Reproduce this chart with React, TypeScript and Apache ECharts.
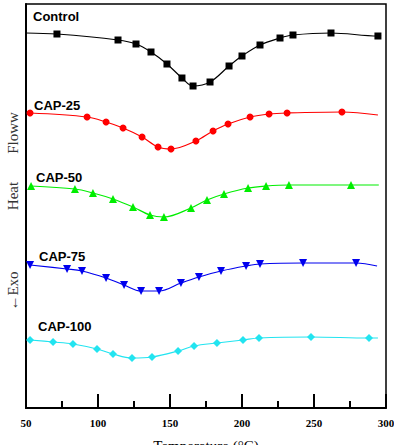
import React, { useEffect, useRef } from "react";
import * as echarts from "echarts";

// Temperature (°C) of each point and relative heat flow (arbitrary units, stacked offsets)
const controlT = [50, 71.5, 113.9, 126.4, 136.8, 147.9, 158.3, 166, 177.8, 191, 200, 212.5, 226.4, 235.4, 261.8, 294.4, 296.5];
const controlV = [375, 374, 368, 364, 356, 344, 330, 322, 326, 342, 352, 363, 370, 373, 375, 372, 373];

const cap25T = [52.8, 92.4, 105.6, 117.4, 130.6, 141.7, 150.7, 168, 179.9, 190.3, 205.6, 218.8, 231.3, 269.4, 294.4];
const cap25V = [295, 291, 286, 280, 271, 261, 259, 267, 277, 284, 291, 294, 295, 296, 293];

const cap50T = [53.5, 84, 96.5, 110.4, 124.3, 136.1, 145.8, 164.6, 175.7, 187.5, 204.2, 216.7, 232.6, 275.7, 295];
const cap50V = [222, 219, 215, 209, 201, 193, 191, 200, 208, 214, 220, 222, 223, 223, 223];

const cap75T = [52.8, 78.5, 88.9, 105.6, 118.1, 129.9, 142.4, 157.6, 170.1, 185.4, 202.8, 212.5, 242.4, 279.2, 293.8];
const cap75V = [143, 139, 137, 130, 123, 117, 117, 125, 131, 137, 142, 144, 145, 145, 142];

const cap100T = [52.8, 68.8, 82.6, 99.3, 110.4, 123.6, 137.5, 155.6, 166.7, 182.6, 200.7, 211.8, 247.9, 288.2, 294.4];
const cap100V = [68, 66, 64, 59, 54, 50, 51, 57, 62, 65, 68, 70, 71, 70, 70];

const seriesNames = ["Control", "CAP-25", "CAP-50", "CAP-75", "CAP-100"];
const xTicks = [50, 100, 150, 200, 250, 300];

const colors = ["#000000", "#ff0000", "#00ee00", "#0000ee", "#22e4f0"];

function build(t: number[], v: number[], noStart: boolean) {
  return t.map((x, i) => {
    const last = i === t.length - 1;
    if ((noStart && i === 0) || last) return { value: [x, v[i]], symbol: "none" };
    return { value: [x, v[i]] };
  });
}

export default function App() {
  const ref = useRef<HTMLDivElement>(null);
  useEffect(() => {
    if (!ref.current) return;
    const chart = echarts.init(ref.current, undefined, { renderer: "svg" });
    const sets = [
      { t: controlT, v: controlV, sym: "rect", size: 7, rot: 0, noStart: true },
      { t: cap25T, v: cap25V, sym: "circle", size: 7, rot: 0, noStart: false },
      { t: cap50T, v: cap50V, sym: "triangle", size: 8, rot: 0, noStart: false },
      { t: cap75T, v: cap75V, sym: "triangle", size: 8, rot: 180, noStart: false },
      { t: cap100T, v: cap100V, sym: "diamond", size: 8, rot: 0, noStart: false },
    ];
    const labelPos = [
      [33, 17],
      [34, 106],
      [36, 178],
      [39, 257],
      [38, 327],
    ];
    const vText = (text: string, y: number) => ({
      type: "text",
      x: 13,
      y,
      rotation: Math.PI / 2,
      style: {
        text,
        font: "15px 'Liberation Serif', serif",
        fill: "#333",
        align: "center",
        verticalAlign: "middle",
      },
    });
    chart.setOption({
      animation: false,
      grid: {
        left: 26,
        right: 8,
        top: 4,
        bottom: 37,
        show: true,
        borderColor: "#000",
        borderWidth: 1.5,
        outerBoundsMode: "none",
      },
      xAxis: {
        type: "value",
        min: xTicks[0],
        max: xTicks[xTicks.length - 1],
        interval: 50,
        name: "Temperature (°C)",
        nameLocation: "middle",
        nameGap: 30,
        nameTextStyle: { fontFamily: "Liberation Serif", fontSize: 15, color: "#000" },
        axisLine: { show: true, onZero: false, lineStyle: { color: "#000", width: 2 } },
        axisTick: { show: true, inside: true, length: 14, lineStyle: { color: "#000", width: 2 } },
        minorTick: { show: true, splitNumber: 2, length: 7, lineStyle: { color: "#000", width: 2 } },
        axisLabel: {
          margin: 9,
          fontFamily: "Liberation Serif",
          fontWeight: "bold",
          fontSize: 11,
          color: "#000",
        },
        splitLine: { show: false },
      },
      yAxis: {
        type: "value",
        min: 0,
        max: 404,
        axisLine: { show: true, onZero: false, lineStyle: { color: "#000", width: 2 } },
        axisTick: { show: false },
        axisLabel: { show: false },
        splitLine: { show: false },
      },
      series: sets.map((s, i) => ({
        name: seriesNames[i],
        type: "line",
        data: build(s.t, s.v, s.noStart),
        smooth: 0.35,
        symbol: s.sym,
        symbolSize: s.size,
        symbolRotate: s.rot,
        lineStyle: { color: colors[i], width: 1.2 },
        itemStyle: { color: colors[i] },
      })),
      graphic: [
        ...seriesNames.map((n, i) => ({
          type: "text",
          left: labelPos[i][0],
          top: labelPos[i][1] - 7,
          style: {
            text: n,
            font: "bold 13px 'Liberation Sans', Arial, sans-serif",
            fill: "#000",
          },
        })),
        vText("Floww", 133),
        vText("Heat", 196),
        vText("←Exo", 291),
      ],
    });
    return () => chart.dispose();
  }, []);
  return (
    <div
      ref={ref}
      style={{ position: "fixed", left: 0, top: 0, width: 394, height: 445, background: "#fff" }}
    />
  );
}
